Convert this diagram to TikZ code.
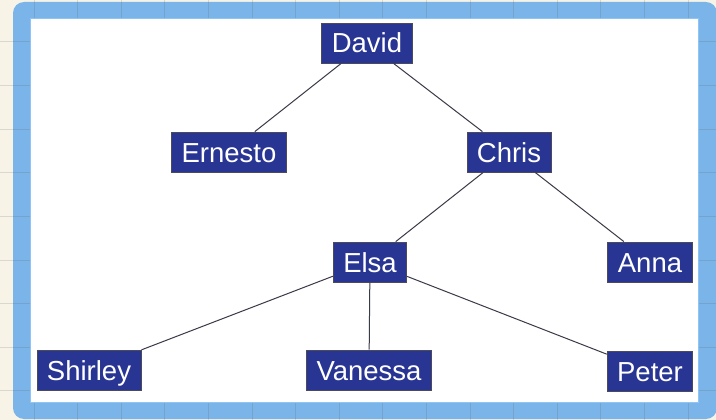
\documentclass[tikz,border=0pt]{standalone}
\usepackage{fontspec}
\newfontfamily\nodefont{Liberation Sans}
\definecolor{paper}{HTML}{F7F4E7}
\definecolor{gridc}{HTML}{5A5A5A}
\definecolor{frame}{HTML}{7AB4E8}
\definecolor{frameedge}{HTML}{8FC4F7}
\definecolor{boxfill}{HTML}{283593}
\definecolor{boxline}{HTML}{4A4A5A}
\definecolor{edgec}{HTML}{3A3A48}
\tikzset{
  person/.style={draw=boxline, line width=0.8pt, fill=boxfill, text=white,
    font=\nodefont\fontsize{27.5}{27.5}\selectfont, inner xsep=10pt, inner ysep=0pt,
    minimum height=40pt, text height=20pt, text depth=0pt},
  link/.style={draw=edgec, line width=1pt}
}
\begin{document}
\begin{tikzpicture}[x=1pt,y=-1pt]
\useasboundingbox (0,0) rectangle (716,420);
\fill[paper] (0,0) rectangle (716,420);
\fill[frame, rounded corners=11pt] (13,2) rectangle (717,419);
\foreach \k in {0,...,15} {
  \draw[gridc, opacity=0.18, line width=1pt] ({34+43.6*\k},0) -- ({34+43.6*\k},420);
}
\foreach \k in {0,...,8} {
  \draw[gridc, opacity=0.18, line width=1pt] (0,{42+43.6*\k}) -- (716,{42+43.6*\k});
}
\fill[white, draw=frameedge, line width=1pt] (30,19) rectangle (698,402);

\node[person] (david) at (367,43) {David};
\node[person] (ernesto) at (229,152) {Ernesto};
\node[person] (chris) at (509,152) {Chris};
\node[person] (elsa) at (370,262) {Elsa};
\node[person] (anna) at (650,262) {Anna};
\node[person] (shirley) at (89,370) {Shirley};
\node[person] (vanessa) at (369,370) {Vanessa};
\node[person] (peter) at (650,371) {Peter};

\draw[link] (david) -- (ernesto);
\draw[link] (david) -- (chris);
\draw[link] (chris) -- (elsa);
\draw[link] (chris) -- (anna);
\draw[link] (elsa) -- (shirley);
\draw[link] (elsa) -- (vanessa);
\draw[link] (elsa) -- (peter);
\end{tikzpicture}
\end{document}
